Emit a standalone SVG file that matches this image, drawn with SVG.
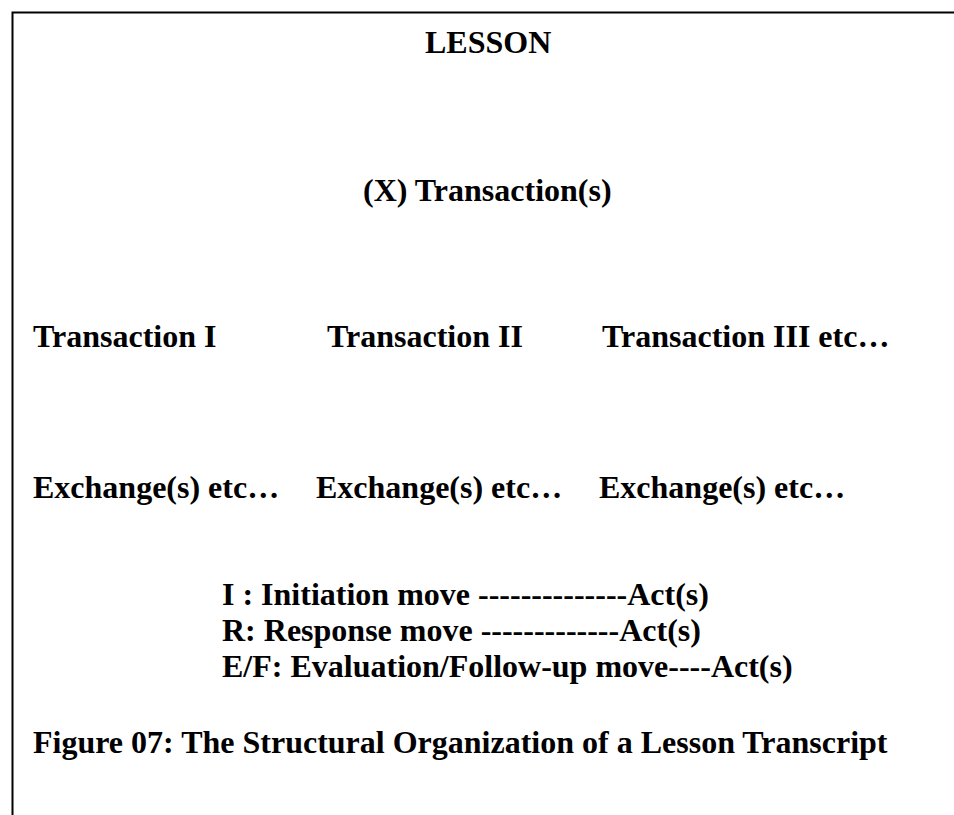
<svg xmlns="http://www.w3.org/2000/svg" width="954" height="815" viewBox="0 0 954 815">
<style>
text{font-family:"Liberation Serif","Times New Roman",serif;font-weight:bold;font-size:32px;fill:#000}
</style>
<rect width="954" height="815" fill="#fff"/>
<g id="frame"><polyline points="12.5,815 12.5,12.5 954,12.5" fill="none" stroke="#000" stroke-width="2"/></g>
<g id="lesson"><text x="425" y="53">LESSON</text></g>
<g id="transactions"><text x="363" y="201">(X) Transaction(s)</text></g>
<g id="transaction1"><text x="33" y="347">Transaction I</text></g>
<g id="transaction2"><text x="327" y="347">Transaction II</text></g>
<g id="transaction3"><text x="602" y="347">Transaction III etc…</text></g>
<g id="exchange1"><text x="33" y="498">Exchange(s) etc…</text></g>
<g id="exchange2"><text x="316" y="498">Exchange(s) etc…</text></g>
<g id="exchange3"><text x="599" y="498">Exchange(s) etc…</text></g>
<g id="moves">
<text x="222" y="605">I : Initiation move --------------Act(s)</text>
<text x="222" y="641">R: Response move -------------Act(s)</text>
<text x="222" y="677">E/F: Evaluation/Follow-up move----Act(s)</text>
</g>
<g id="caption"><text x="33" y="753">Figure 07: The Structural Organization of a Lesson Transcript</text></g>
<g id="connectors"></g>
</svg>
